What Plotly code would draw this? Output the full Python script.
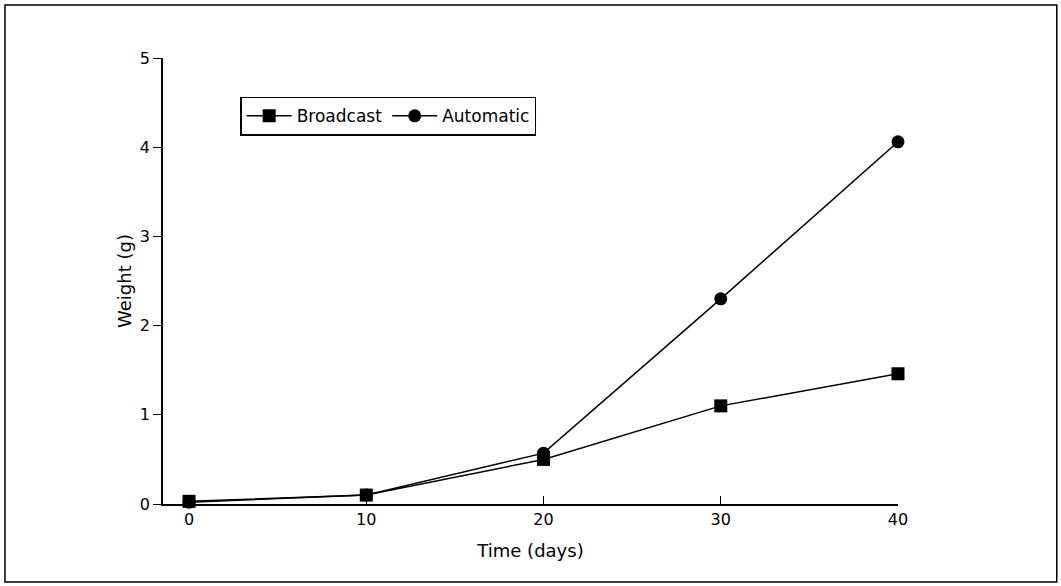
import plotly.graph_objects as go

days = [0, 10, 20, 30, 40]
broadcast = [0.03, 0.1, 0.5, 1.1, 1.46]
automatic = [0.02, 0.1, 0.57, 2.3, 4.06]

FONT = "DejaVu Sans"

fig = go.Figure()
fig.add_trace(go.Scatter(
    x=days, y=broadcast, name="Broadcast", mode="lines+markers",
    line=dict(color="black", width=1.5), cliponaxis=False,
    marker=dict(symbol="square", size=13, color="black"),
))
fig.add_trace(go.Scatter(
    x=days, y=automatic, name="Automatic", mode="lines+markers",
    line=dict(color="black", width=1.5), cliponaxis=False,
    marker=dict(symbol="circle", size=13, color="black"),
))

# outer frame around the whole figure
fig.add_shape(type="rect", xref="paper", yref="paper",
              x0=-0.215, x1=1.216, y0=-0.175, y1=1.119,
              line=dict(color="black", width=1.5))

fig.update_layout(
    width=1061, height=586,
    margin=dict(l=163, r=163, t=58, b=82),
    plot_bgcolor="white", paper_bgcolor="white",
    font=dict(family=FONT, size=16, color="black"),
    showlegend=True,
    legend=dict(
        orientation="h", x=0.105, y=0.913, xanchor="left", yanchor="top",
        bordercolor="black", borderwidth=1.5, bgcolor="white",
        font=dict(family=FONT, size=17, color="black"),
        itemwidth=45, tracegroupgap=0,
    ),
    xaxis=dict(
        range=[-1.47, 40], tickvals=days, ticks="inside", ticklen=8,
        tickcolor="black", showline=True, linecolor="black", linewidth=1.5,
        showgrid=False, zeroline=False,
        title=dict(text="Time (days)", font=dict(size=18), standoff=16),
    ),
    yaxis=dict(
        range=[0, 5], tickvals=[0, 1, 2, 3, 4, 5], ticks="outside", ticklen=8,
        tickcolor="black", showline=True, linecolor="black", linewidth=1.5,
        showgrid=False, zeroline=False,
        title=dict(text="Weight (g)", font=dict(size=18), standoff=4),
    ),
)

fig.write_html("out.html", config={"displayModeBar": False},
               post_script="document.body.style.margin='0';")
